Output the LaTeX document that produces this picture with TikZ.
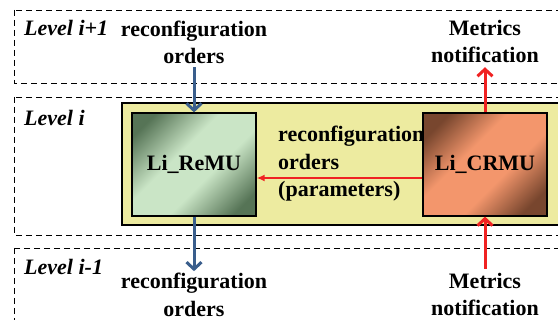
\documentclass[tikz,border=0pt]{standalone}
\usepackage{fontspec}
\setmainfont{Liberation Serif}
\usetikzlibrary{arrows.meta}
\definecolor{boxyellow}{RGB}{237,235,160}
\definecolor{remudark}{RGB}{86,116,86}
\definecolor{remulight}{RGB}{202,229,198}
\definecolor{crmudark}{RGB}{120,70,46}
\definecolor{crmulight}{RGB}{243,150,108}
\definecolor{ordblue}{RGB}{58,94,140}
\definecolor{metred}{RGB}{240,34,34}
\pgfdeclarehorizontalshading{remushade}{100bp}{color(0bp)=(remudark); color(22bp)=(remudark); color(42bp)=(remulight); color(58bp)=(remulight); color(78bp)=(remudark); color(100bp)=(remudark)}
\pgfdeclarehorizontalshading{crmushade}{100bp}{color(0bp)=(crmudark); color(23bp)=(crmudark); color(41bp)=(crmulight); color(59bp)=(crmulight); color(77bp)=(crmudark); color(100bp)=(crmudark)}
\begin{document}
\begin{tikzpicture}[x=1pt, y=-1pt,
  txt/.style={inner sep=0pt, align=center, font=\fontsize{22}{27.5}\selectfont\bfseries},
  lvl/.style={inner sep=0pt, anchor=west, font=\fontsize{22}{27.5}\selectfont\bfseries\itshape},
  levelbox/.style={draw, dash pattern=on 6pt off 4pt, line width=0.8pt},
  unitbox/.style={draw, line width=1.2pt, minimum width=124pt, minimum height=103pt, shading angle=-45, inner sep=0pt, font=\fontsize{22}{27.5}\selectfont\bfseries},
  ordarrow/.style={ordblue, line width=3pt, -{Straight Barb[length=7pt,width=15pt,line width=3pt]}},
  metarrow/.style={metred, line width=3pt, -{Straight Barb[length=7pt,width=15pt,line width=3pt]}},
  paramarrow/.style={metred, line width=1.6pt, -{Latex[length=8pt,width=7pt]}}]
\useasboundingbox (0,0) rectangle (558,320);
\clip (0,0) rectangle (558,320);
\draw[levelbox] (14,10) rectangle (575,83);
\draw[levelbox] (14,97) rectangle (575,235);
\draw[levelbox] (14,248) rectangle (575,335);
\node[lvl] (lvlup) at (24,28){Level i+1};
\node[lvl] (lvlmid) at (24,118){Level i};
\node[lvl] (lvldown) at (24,267){Level i-1};
\node[draw, fill=boxyellow, line width=1.2pt, minimum width=440pt, minimum height=122pt] (layer) at (342,164){};
\node[txt, align=left, anchor=west] (params) at (278,164){reconfiguration\\orders\\(parameters)};
\node[unitbox, shading=remushade] (remu) at (194,164.5){Li\_ReMU};
\node[unitbox, shading=crmushade] (crmu) at (485,164.5){Li\_CRMU};
\node[txt] (uporders) at (194,42.5){reconfiguration\\orders};
\node[txt] (upmetrics) at (485,41.5){Metrics\\notification};
\node[txt] (downorders) at (194,295){reconfiguration\\orders};
\node[txt] (downmetrics) at (485,294.5){Metrics\\notification};
\draw[ordarrow, shorten <=3pt] (uporders.south) -- (remu.north);
\draw[ordarrow, shorten >=2pt] (remu.south) -- (downorders.north);
\draw[metarrow, shorten >=4pt] (crmu.north) -- (upmetrics.south);
\draw[metarrow, shorten <=4pt] (downmetrics.north) -- (crmu.south);
\draw[paramarrow] ([yshift=-13.5pt]crmu.west) -- ([yshift=-13.5pt]remu.east);
\end{tikzpicture}
\end{document}
